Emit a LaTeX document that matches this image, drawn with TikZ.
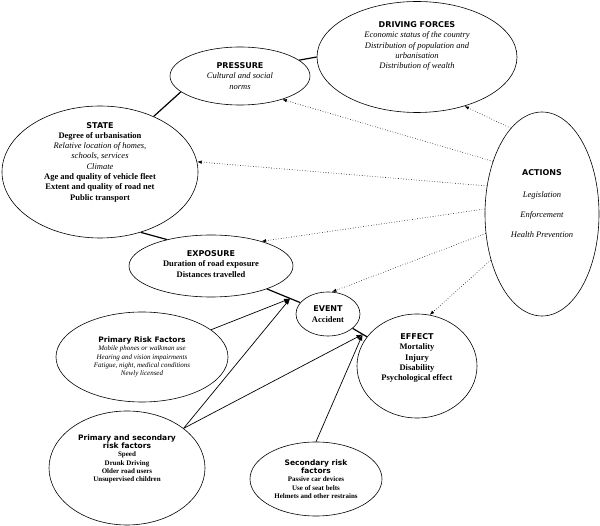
\documentclass[tikz,border=0pt]{standalone}
\usepackage{fontspec}
\setmainfont{Liberation Serif}
\newfontfamily\headfont{DejaVu Sans}
\usetikzlibrary{arrows.meta,shapes.geometric}
\newcommand{\hd}[2][8]{{\headfont\bfseries\fontsize{#1}{10}\selectfont #2}}

\begin{document}
\begin{tikzpicture}[
    x=1pt, y=-1pt,
    oval/.style={draw, ellipse, line width=0.6pt, inner sep=0pt},
    txt/.style={align=center, font=\fontsize{8.5}{10.3}\selectfont},
    small/.style={align=center, font=\fontsize{7}{8.3}\selectfont},
    link/.style={line width=1.2pt},
    arr/.style={-{Latex[length=2.2mm,width=1.6mm]}, line width=0.7pt},
    act/.style={-{Latex[length=1.6mm,width=1.2mm]}, dotted, line width=0.6pt}
  ]
    \useasboundingbox (0,0) rectangle (600,526);
    \node[oval, minimum width=200pt, minimum height=111pt,
      label={[txt, yshift=11pt]center:{\hd{DRIVING FORCES}\\
        \textit{Economic status of the country}\\
        \textit{Distribution of population and}\\
        \textit{urbanisation}\\
        \textit{Distribution of wealth}}}] (drive) at (417,57) {};
    \node[oval, minimum width=140pt, minimum height=58pt,
      label={[txt]center:{\hd{PRESSURE}\\
        \textit{Cultural and social}\\
        \textit{norms}}}] (press) at (240,76) {};
    \node[oval, minimum width=196pt, minimum height=132pt,
      label={[txt, yshift=10pt]center:{\hd{STATE}\\
        \textbf{Degree of urbanisation}\\
        \textit{Relative location of homes,}\\
        \textit{schools, services}\\
        \textit{Climate}\\
        \textbf{Age and quality of vehicle fleet}\\
        \textbf{Extent and quality of road net}\\
        \textbf{Public transport}}}] (state) at (100,172) {};
    \node[oval, minimum width=114pt, minimum height=204pt,
      label={[txt, yshift=10pt]center:{\hd{ACTIONS}\\[11pt]
        \textit{Legislation}\\[10pt]
        \textit{Enforcement}\\[10pt]
        \textit{Health Prevention}}}] (action) at (542,214) {};
    \node[oval, minimum width=164pt, minimum height=62pt,
      label={[txt, yshift=2pt]center:{\hd{EXPOSURE}\\
        \textbf{Duration of road exposure}\\
        \textbf{Distances travelled}}}] (expo) at (211,266) {};
    \node[oval, minimum width=64pt, minimum height=44pt,
      label={[txt]center:{\hd{EVENT}\\
        \textbf{Accident}}}] (event) at (328,314) {};
    \node[oval, minimum width=120pt, minimum height=104pt,
      label={[txt, yshift=8pt]center:{\hd{EFFECT}\\
        \textbf{Mortality}\\
        \textbf{Injury}\\
        \textbf{Disability}\\
        \textbf{Psychological effect}}}] (effect) at (417,366) {};
    % risk factors
    \node[oval, minimum width=172pt, minimum height=90pt,
      label={[small]center:{\hd[7.5]{Primary Risk Factors}\\
        \textit{Mobile phones or walkman use}\\
        \textit{Hearing and vision impairments}\\
        \textit{Fatigue, night, medical conditions}\\
        \textit{Newly licensed}}}] (risk1) at (142,357) {};
    \node[oval, minimum width=156pt, minimum height=114pt,
      label={[small, yshift=9pt]center:{\hd[7.5]{Primary and secondary}\\
        \hd[7.5]{risk factors}\\
        \textbf{Speed}\\
        \textbf{Drunk Driving}\\
        \textbf{Older road users}\\
        \textbf{Unsupervised children}}}] (risk2) at (127,468) {};
    \node[oval, minimum width=132pt, minimum height=74pt,
      label={[small]center:{\hd[7.5]{Secondary risk}\\
        \hd[7.5]{factors}\\
        \textbf{Passive car devices}\\
        \textbf{Use of seat belts}\\
        \textbf{Helmets and other restrains}}}] (risk3) at (316,479) {};

    \draw[link] (state.46) -- (press.195);
    \draw[link] (press.15) -- (drive.west);
    \draw[link] (state.304) -- (expo.149);
    \draw[link] (expo) -- coordinate[pos=.7] (hitA) (event);
    \draw[link] (event) -- coordinate[pos=.7] (hitB) (effect);

    \draw[arr] (risk1) -- (hitA);
    \draw[arr] (risk2.35) -- (hitA);
    \draw[arr] (risk2.35) -- (hitB);
    \draw[arr] (risk3.north) -- (hitB);

    % actions
    \draw[act] (action.110) -- (drive.314);
    \draw[act] (action.133) -- (press.331);
    \draw[act] (action.153) -- (state.6);
    \draw[act] (action.175) -- (expo.26);
    \draw[act] (action.199) -- (event.80);
    \draw[act] (action.222) -- (effect.76);
\end{tikzpicture}
\end{document}
